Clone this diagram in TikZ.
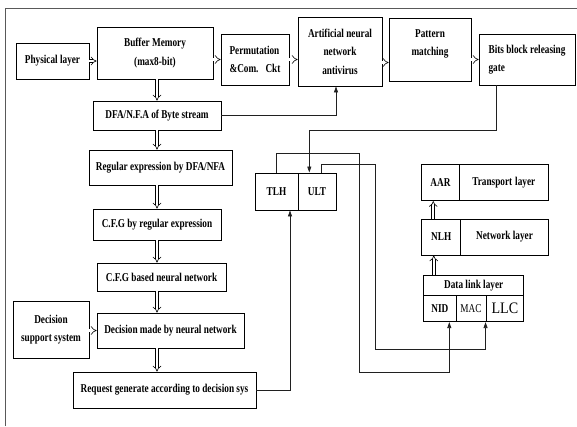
\documentclass[tikz,border=0pt]{standalone}
\usepackage{fontspec}
\setmainfont{Liberation Serif}[FakeStretch=0.77]
\newfontfamily\llcfont{Liberation Serif}[FakeStretch=0.88]
\usetikzlibrary{arrows.meta}

\begin{document}
\begin{tikzpicture}[x=1pt,y=-1pt,
                    box/.style={draw,line width=0.9pt,inner sep=1pt,align=center,font=\fontsize{12}{18.5}\selectfont\bfseries},
                    hol/.style={draw,double,double distance=2.4pt,line width=0.6pt,-{Implies}},
                    arr/.style={draw,line width=0.8pt,gray!25!black,->,>={Stealth[length=6pt,width=4pt,inset=0pt]}}]
                    \useasboundingbox (0,0) rectangle (577,426);
                    \draw[gray!70!black,line width=0.8pt] (5,426) -- (5,8) -- (577,8);
                    % top row
                    \node[box,minimum width=73pt,minimum height=36pt] (phys) at (52.5,61) {Physical layer};
                    \node[box,minimum width=116pt,minimum height=52pt] (buf) at (155,53) {Buffer Memory\\(max8-bit)};
                    \node[box,minimum width=68pt,minimum height=51pt,align=left] (perm) at (255,59.5) {Permutation\\\&Com.\hspace{7pt}Ckt};
                    \node[box,minimum width=84pt,minimum height=69pt] (ann) at (340,51.5) {Artificial neural\\network\\antivirus};
                    \node[box,minimum width=82pt,minimum height=63pt,text depth=13.6pt] (pat) at (430,49.5) {Pattern\\matching};
                    \node[box,minimum width=96pt,minimum height=51pt,align=left] (bits) at (527,59.5) {Bits block releasing\\gate};
                    % left column
                    \node[box,minimum width=128pt,minimum height=29pt] (dfa) at (157,115.5) {DFA/N.F.A of Byte stream};
                    \node[box,minimum width=143pt,minimum height=35pt] (regex) at (160.5,167.5) {Regular expression by DFA/NFA};
                    \node[box,minimum width=128pt,minimum height=31pt] (cfgr) at (157,224.5) {C.F.G by regular expression};
                    \node[box,minimum width=129pt,minimum height=28pt] (cfgn) at (161.5,277) {C.F.G based neural network};
                    \node[box,minimum width=76pt,minimum height=57pt] (dss) at (51,329.5) {Decision\\support system};
                    \node[box,minimum width=147pt,minimum height=35pt] (dec) at (170.5,330.5) {Decision made by neural network};
                    \node[box,minimum width=183pt,minimum height=36pt] (req) at (164.5,390) {Request generate according to decision sys};
                    % layers
                    \node[box,minimum width=43pt,minimum height=37pt] (tlh) at (276.5,191.5) {TLH};
                    \node[box,minimum width=38pt,minimum height=37pt] (ult) at (317,191.5) {ULT};
                    \node[box,minimum width=37.6pt,minimum height=36.7pt] (aar) at (440.5,182.3) {AAR};
                    \node[box,minimum width=89pt,minimum height=36.7pt] (trl) at (503.8,182.3) {Transport\hspace{3pt}layer};
                    \node[box,minimum width=39pt,minimum height=36pt] (nlh) at (441.2,237) {NLH};
                    \node[box,minimum width=87.6pt,minimum height=36pt] (nwl) at (504.5,237) {Network layer};
                    \node[box,minimum width=100pt,minimum height=19.3pt] (dll) at (473.7,285.3) {Data link layer};
                    \node[box,minimum width=32.3pt,minimum height=26.7pt] (nid) at (439.8,308.3) {NID};
                    \node[box,minimum width=30pt,minimum height=26.7pt,font=\fontsize{12}{13}\selectfont] (mac) at (471,308.3) {MAC};
                    \node[box,minimum width=37.7pt,minimum height=26.7pt,font=\fontsize{16}{16}\llcfont] (llc) at (504.85,308.3) {LLC};
                    % hollow arrows
                    \draw[hol] (phys.east) -- (phys.east -| buf.west);
                    \draw[hol] (buf.east |- perm.west) -- (perm.west);
                    \draw[hol] (perm.east) -- (perm.east -| ann.west);
                    \draw[hol] ([yshift=-11pt]ann.east) -- ([yshift=-11pt]ann.east -| pat.west);
                    \draw[hol] (pat.east |- bits.west) -- (bits.west);
                    \draw[hol] (buf.south -| dfa) -- (dfa.north);
                    \draw[hol] (dfa.south) -- (dfa.south |- regex.north);
                    \draw[hol] (cfgr.north |- regex.south) -- (cfgr.north);
                    \draw[hol] (cfgr.south) -- (cfgr.south |- cfgn.north);
                    \draw[hol] (cfgr.south |- cfgn.south) -- (cfgr.south |- dec.north);
                    \draw[hol] (dss.east |- dec) -- (dec.west);
                    \draw[hol] (cfgr.south |- dec.south) -- (cfgr.south |- req.north);
                    \draw[hol] ([xshift=10.5pt]dll.north west) -- ([xshift=10.5pt]dll.north west |- nlh.south);
                    \draw[hol] ([xshift=12pt]nlh.north west) -- ([xshift=12pt]nlh.north west |- aar.south);
                    % connectors
                    \draw[arr] (dfa.east) -| ([xshift=-4pt]ann.south);
                    \draw[arr] ([xshift=-30.3pt]bits.south) -- ++(0,45) -| ([xshift=-7.7pt]ult.north);
                    \draw[arr] (tlh.north) |- (359,153.3) -- (359,372.3) -| ([xshift=9.5pt]nid.south);
                    \draw[arr] ([xshift=4.7pt]ult.north) |- (375.7,164) -- (375.7,349) -| (llc.south west);
                    \draw[arr] (req.east) -| ([xshift=13.5pt]tlh.south);
                \end{tikzpicture}
\end{document}
